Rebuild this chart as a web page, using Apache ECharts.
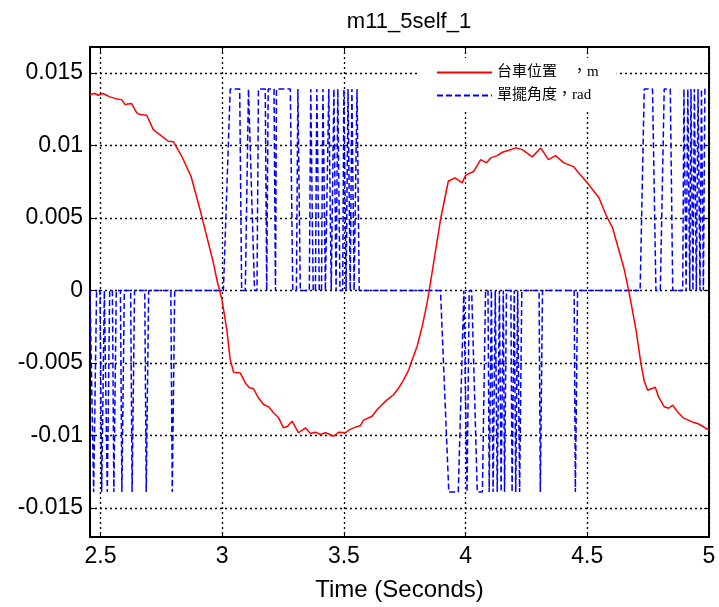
<!DOCTYPE html>
<html>
<head>
<meta charset="utf-8">
<script src="https://cdn.jsdelivr.net/npm/echarts@6/dist/echarts.min.js"></script>
<style>html,body{margin:0;padding:0;background:#fff}#c{width:719px;height:607px}</style>
</head>
<body>
<div id="c"></div>
<script>
// ---- data ----
const xTicks = [2.5, 3, 3.5, 4, 4.5, 5];
const yTicks = [-0.015, -0.01, -0.005, 0, 0.005, 0.01, 0.015];
const seriesNames = ['台車位置　，m', '單擺角度，rad'];

// cart position (m)
const positionTime = [2.457,2.477,2.491,2.510,2.539,2.567,2.587,2.601,2.628,2.649,2.663,2.690,2.717,2.738,2.779,2.800,2.834,2.872,2.909,2.964,2.978,2.999,3.019,3.033,3.047,3.074,3.095,3.112,3.129,3.149,3.170,3.191,3.211,3.232,3.252,3.269,3.287,3.314,3.342,3.362,3.383,3.403,3.424,3.444,3.458,3.479,3.506,3.520,3.540,3.568,3.581,3.616,3.637,3.671,3.705,3.726,3.746,3.767,3.781,3.801,3.822,3.842,3.849,3.897,3.929,3.956,3.986,4.000,4.034,4.062,4.086,4.103,4.130,4.151,4.178,4.206,4.233,4.274,4.309,4.340,4.370,4.404,4.445,4.459,4.500,4.548,4.576,4.604,4.652,4.672,4.700,4.720,4.734,4.748,4.779,4.793,4.816,4.834,4.851,4.871,4.894,4.933,4.953,4.974,4.988,5.000];
const positionValue = [0.01352,0.01359,0.01347,0.01359,0.01336,0.01322,0.01317,0.01283,0.01290,0.01226,0.01214,0.01209,0.01110,0.01083,0.01030,0.01026,0.00926,0.00788,0.00559,0.00191,0.00076,-0.00062,-0.00269,-0.00476,-0.00564,-0.00568,-0.00637,-0.00671,-0.00678,-0.00740,-0.00786,-0.00802,-0.00843,-0.00878,-0.00947,-0.00936,-0.00901,-0.00981,-0.00947,-0.00986,-0.00977,-0.00993,-0.00981,-0.00993,-0.01005,-0.00977,-0.00981,-0.00963,-0.00947,-0.00931,-0.00894,-0.00867,-0.00821,-0.00763,-0.00717,-0.00670,-0.00614,-0.00545,-0.00476,-0.00384,-0.00246,-0.00085,-0.00016,0.00490,0.00754,0.00777,0.00743,0.00795,0.00823,0.00903,0.00881,0.00915,0.00931,0.00954,0.00968,0.00984,0.00972,0.00922,0.00984,0.00903,0.00931,0.00881,0.00853,0.00823,0.00743,0.00640,0.00524,0.00432,0.00145,-0.00016,-0.00269,-0.00499,-0.00626,-0.00688,-0.00667,-0.00733,-0.00802,-0.00812,-0.00791,-0.00837,-0.00878,-0.00908,-0.00917,-0.00936,-0.00952,-0.00960];

// pendulum angle (rad): switching signal, vertices
const angleTime = [
 2.457,2.465,2.472,2.477,2.484, 2.498,2.505,2.509,2.516, 2.522,2.528,2.532,2.538, 2.549,2.555,2.559,2.565,
 2.582,2.588,2.592,2.598, 2.624,2.630,2.634,2.640, 2.682,2.688,2.692,2.698, 2.789,2.795,2.799,2.805,
 3.005,3.033,3.072,3.080, 3.095,3.108,3.115,3.133, 3.143,3.149,3.177,3.183,3.189,3.193,3.213,3.219,3.223,3.232,3.280,3.290,
 3.305,3.311,3.315,3.321, 3.358,3.364,3.368,3.374, 3.383,3.389,3.393,3.399, 3.408,3.414,3.418,3.424,
 3.432,3.438,3.442,3.448, 3.454,3.459,3.463,3.468, 3.470,3.475,3.479,3.484, 3.495,3.500,3.504,3.509,
 3.512,3.517,3.521,3.526, 3.528,3.533,3.537,3.542, 3.549,3.554,3.558,3.563,
 3.897,3.931,3.970,3.993, 4.001,4.006,4.010,4.015, 4.025,4.048,4.069,4.082,
 4.092,4.097,4.101,4.106, 4.108,4.113,4.117,4.122, 4.125,4.130,4.134,4.139, 4.141,4.146,4.150,4.155, 4.156,4.160,4.164,4.168,
 4.186,4.191,4.195,4.200, 4.202,4.206,4.210,4.214, 4.217,4.222,4.226,4.231,
 4.302,4.307,4.311,4.316, 4.446,4.451,4.455,4.460,
 4.717,4.734,4.768,4.782, 4.800,4.816,4.841,4.851,
 4.892,4.897,4.901,4.906, 4.908,4.913,4.917,4.921, 4.922,4.926,4.930,4.934, 4.936,4.940,4.944,4.948,
 4.950,4.955,4.959,4.963, 4.965,4.969,4.973,4.977, 4.978,4.983,5.000
];
const angleValue = [
 0,0,-0.0139,-0.0139,0, 0,-0.0139,-0.0139,0, 0,-0.0139,-0.0139,0, 0,-0.0139,-0.0139,0,
 0,-0.0139,-0.0139,0, 0,-0.0139,-0.0139,0, 0,-0.0139,-0.0139,0, 0,-0.0139,-0.0139,0,
 0,0.0139,0.0139,0, 0,0.0139,0.0139,0, 0,0.0139,0.0139,0,0.0139,0.0139,0.0139,0,0.0139,0.0139,0.0139,0,
 0,0.0139,0.0139,0, 0,0.0139,0.0139,0, 0,0.0139,0.0139,0, 0,0.0139,0.0139,0,
 0,0.0139,0.0139,0, 0,0.0139,0.0139,0, 0,0.0139,0.0139,0, 0,0.0139,0.0139,0,
 0,0.0139,0.0139,0, 0,0.0139,0.0139,0, 0,0.0139,0.0139,0,
 0,-0.0139,-0.0139,0, 0,-0.0139,-0.0139,0, 0,-0.0139,-0.0139,0,
 0,-0.0139,-0.0139,0, 0,-0.0139,-0.0139,0, 0,-0.0139,-0.0139,0, 0,-0.0139,-0.0139,0, 0,-0.0139,-0.0139,0,
 0,-0.0139,-0.0139,0, 0,-0.0139,-0.0139,0, 0,-0.0139,-0.0139,0,
 0,-0.0139,-0.0139,0, 0,-0.0139,-0.0139,0,
 0,0.0139,0.0139,0, 0,0.0139,0.0139,0,
 0,0.0139,0.0139,0, 0,0.0139,0.0139,0, 0,0.0139,0.0139,0, 0,0.0139,0.0139,0,
 0,0.0139,0.0139,0, 0,0.0139,0.0139,0, 0,0.0139,0.0139
];

const zip = (a, b) => a.map((v, i) => [v, b[i]]);
const FONT = "'Liberation Sans', Arial, sans-serif";
const fmt = v => String(Math.round(v * 1000) / 1000);

const chart = echarts.init(document.getElementById('c'), null, {renderer: 'canvas'});
const axisLine = {show: true, onZero: false, lineStyle: {color: '#000', width: 2}};
const grid = {left: 90, right: 10, top: 47, bottom: 69, containLabel: false};
chart.setOption({
  animation: false,
  backgroundColor: '#fff',
  title: {
    text: 'm11_5self_1', left: 404, top: 6, textAlign: 'center',
    textStyle: {fontFamily: FONT, fontSize: 22, fontWeight: 'normal', color: '#000'}
  },
  grid: grid,
  legend: {
    data: seriesNames, orient: 'vertical', left: 420, top: 58,
    backgroundColor: '#fff', padding: [7, 18, 7, 16], itemGap: 8,
    itemWidth: 55, itemHeight: 15,
    itemStyle: {opacity: 0},
    textStyle: {fontFamily: "'Liberation Serif', 'Noto Sans CJK TC', serif", fontSize: 15, color: '#000'}
  },
  xAxis: [{
    type: 'value', min: 2.457, max: 5, position: 'bottom',
    name: 'Time (Seconds)', nameLocation: 'middle', nameGap: 41,
    nameTextStyle: {fontFamily: FONT, fontSize: 24, color: '#000'},
    axisLine: axisLine,
    axisTick: {show: true, inside: true, length: 5, customValues: xTicks, lineStyle: {color: '#000', width: 1}},
    axisLabel: {customValues: xTicks, formatter: fmt, fontFamily: FONT, fontSize: 23, color: '#000', margin: 8},
    splitLine: {show: true, lineStyle: {color: '#000', type: [2, 3], width: 1.3}}
  }, {
    type: 'value', min: 2.457, max: 5, position: 'top',
    axisLine: axisLine,
    axisTick: {show: true, inside: true, length: 5, customValues: xTicks, lineStyle: {color: '#000', width: 1}},
    axisLabel: {show: false}, splitLine: {show: false}
  }],
  yAxis: [{
    type: 'value', min: -0.0170, max: 0.0168, position: 'left',
    axisLine: axisLine,
    axisTick: {show: true, inside: true, length: 5, customValues: yTicks, lineStyle: {color: '#000', width: 1}},
    axisLabel: {customValues: yTicks, formatter: fmt, fontFamily: FONT, fontSize: 23, color: '#000', margin: 7},
    splitLine: {show: true, lineStyle: {color: '#000', type: [2, 3], width: 1.3}}
  }, {
    type: 'value', min: -0.0170, max: 0.0168, position: 'right',
    axisLine: axisLine,
    axisTick: {show: true, inside: true, length: 5, customValues: yTicks, lineStyle: {color: '#000', width: 1}},
    axisLabel: {show: false}, splitLine: {show: false}
  }],
  series: [{
    name: seriesNames[0], type: 'line', xAxisIndex: 0, yAxisIndex: 0,
    data: zip(positionTime, positionValue), symbol: 'none', showSymbol: false,
    itemStyle: {color: '#ff0000'},
    lineStyle: {color: '#ff0000', width: 1.5}, z: 3
  }, {
    name: seriesNames[1], type: 'line', xAxisIndex: 0, yAxisIndex: 0,
    data: zip(angleTime, angleValue), symbol: 'none', showSymbol: false,
    itemStyle: {color: '#0000ff'},
    lineStyle: {color: '#0000ff', width: 1.5, type: [6, 3]}, z: 2
  }]
});
</script>
</body>
</html>
